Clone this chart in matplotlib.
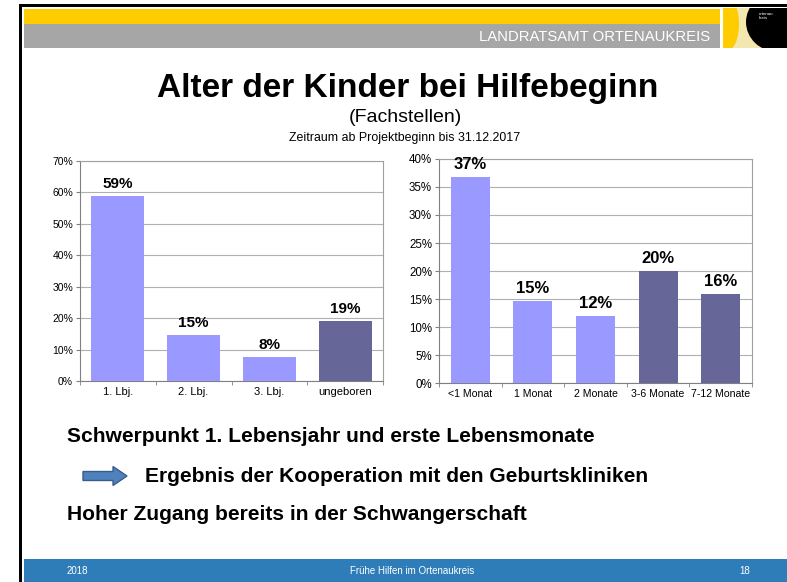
import numpy as np
import matplotlib
matplotlib.use('Agg')
import matplotlib.pyplot as plt
from matplotlib import patches

plt.rcParams['font.family'] = ['Liberation Sans', 'DejaVu Sans']

# data
age_cats = ['1. Lbj.', '2. Lbj.', '3. Lbj.', 'ungeboren']
age_vals = [59.0, 14.6, 7.6, 19.1]
age_dark = [False, False, False, True]

month_cats = ['<1 Monat', '1 Monat', '2 Monate', '3-6 Monate', '7-12 Monate']
month_vals = [36.8, 14.6, 12.0, 20.0, 15.9]
month_dark = [False, False, False, True, True]

title = 'Alter der Kinder bei Hilfebeginn'
subtitle = '(Fachstellen)'
period = 'Zeitraum ab Projektbeginn bis 31.12.2017'
notes = ['Schwerpunkt 1. Lebensjahr und erste Lebensmonate',
         'Ergebnis der Kooperation mit den Geburtskliniken',
         'Hoher Zugang bereits in der Schwangerschaft']

LIGHT = '#9999FF'
DARK = '#666699'
W, H = 787, 582

fig = plt.figure(figsize=(W / 100, H / 100), dpi=100)

# slide background layer in pixel coordinates
bg = fig.add_axes([0, 0, 1, 1])
bg.set_xlim(0, W)
bg.set_ylim(H, 0)
bg.axis('off')

bg.add_patch(patches.Rectangle((19, 4), W - 19, 2.5, color='black', lw=0))
bg.add_patch(patches.Rectangle((19, 4), 2.5, H - 4, color='black', lw=0))
bg.add_patch(patches.Rectangle((24, 9), 696, 15, color='#FFCC00', lw=0))
bg.add_patch(patches.Rectangle((24, 24), 696, 24, color='#A6A6A6', lw=0))
bg.text(710, 37, 'LANDRATSAMT ORTENAUKREIS', color='white', fontsize=10.7,
        ha='right', va='center')

# logo
logo = patches.Rectangle((723, 8), 64, 40, color='#F3E7B0', lw=0)
bg.add_patch(logo)
blk = patches.Ellipse((778, 22), 64, 60, color='black', lw=0)
bg.add_patch(blk)
blk.set_clip_path(logo)
yel = patches.Ellipse((728, 24), 22, 52, color='#FFCC00', lw=0)
bg.add_patch(yel)
yel.set_clip_path(logo)
bg.text(759, 16, 'ortenau\nkreis', color='white', fontsize=3.2, ha='left',
        va='center', linespacing=1.1)

bg.text(408, 88, title, fontsize=24, fontweight='bold', ha='center', va='center')
bg.text(405, 118, subtitle, fontsize=14, ha='center', va='center')
bg.text(405, 138, period, fontsize=8.9, ha='center', va='center')

bg.text(67, 437, notes[0], fontsize=15.1, fontweight='bold', va='center')
bg.add_patch(patches.FancyArrow(83, 476, 30, 0, width=9, head_width=19,
                                head_length=14, length_includes_head=False,
                                facecolor='#4F81BD', edgecolor='#385D8A', lw=1))
bg.text(145, 476, notes[1], fontsize=15.1, fontweight='bold', va='center')
bg.text(67, 515, notes[2], fontsize=15.1, fontweight='bold', va='center')

bg.add_patch(patches.Rectangle((24, 559), W - 24, H - 559, color='#2E7DB8', lw=0))
bg.text(67, 571, '2018', color='white', fontsize=7, va='center')
bg.text(412, 571, 'Frühe Hilfen im Ortenaukreis', color='white', fontsize=7,
        ha='center', va='center')
bg.text(750, 571, '18', color='white', fontsize=7, ha='right', va='center')


def bar_chart(rect, cats, vals, dark, ymax, step, width, lab_size, tick_size,
              xlab_size):
    ax = fig.add_axes(rect)
    x = np.arange(len(cats))
    colors = [DARK if d else LIGHT for d in dark]
    ax.bar(x, vals, width=width, color=colors, zorder=3)
    for xi, v in zip(x, vals):
        ax.text(xi, v + ymax * 0.022, f'{v:.0f}%', ha='center', va='bottom',
                fontsize=lab_size, fontweight='bold', zorder=4)
    ax.set_xlim(-0.5, len(cats) - 0.5)
    ax.set_ylim(0, ymax)
    ticks = np.arange(0, ymax + 0.1, step)
    ax.set_yticks(ticks)
    ax.set_yticklabels([f'{t:.0f}%' for t in ticks])
    ax.set_xticks(x)
    ax.set_xticklabels(cats)
    ax.set_xticks(np.arange(len(cats) + 1) - 0.5, minor=True)
    ax.tick_params(axis='x', which='major', length=0, labelsize=xlab_size, pad=4)
    ax.tick_params(axis='x', which='minor', length=3, color='#808080')
    ax.tick_params(axis='y', length=3, color='#808080', labelsize=tick_size, pad=2)
    ax.grid(axis='y', color='#B0B0B0', lw=0.8, zorder=0)
    for s in ['top', 'right']:
        ax.spines[s].set_color('#A0A0A0')
        ax.spines[s].set_linewidth(0.8)
    for s in ['left', 'bottom']:
        ax.spines[s].set_color('#808080')
        ax.spines[s].set_linewidth(0.8)
    return ax


bar_chart([80 / W, 1 - 381 / H, 303 / W, 220 / H], age_cats, age_vals,
          age_dark, 70, 10, 0.7, 11, 7.5, 8)
bar_chart([439 / W, 1 - 383 / H, 313 / W, 224 / H], month_cats, month_vals,
          month_dark, 40, 5, 0.62, 12, 8.3, 7.6)

fig.savefig('out.png', dpi=100)
